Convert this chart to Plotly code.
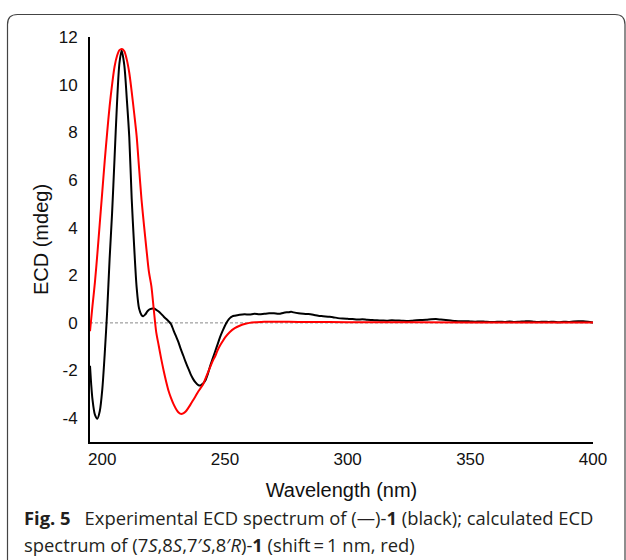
import plotly.graph_objects as go

# ---------------- data ----------------
exp_wl = [195, 195.5, 196, 197, 198, 199, 200, 201, 202, 203, 204, 205, 206, 207, 207.9,
          209, 210, 211, 212, 213, 214, 215, 216, 216.7, 217.5, 218.5, 219.5, 221, 222,
          223, 224, 225, 226, 227, 228, 229, 230, 231, 232, 233, 234, 235, 236, 237, 238,
          239, 240, 241, 242, 243, 244, 245, 246, 247, 248, 249, 250, 251, 252, 253, 254,
          256, 258, 260, 262, 264, 266, 268, 270, 272, 274, 276, 277, 278, 280, 282, 284,
          286, 288, 290, 292, 294, 296, 298, 300, 302, 304, 306, 308, 310, 312, 314, 316,
          318, 320, 322, 324, 326, 328, 330, 332, 334, 336, 338, 340, 342, 344, 346, 348,
          350, 352, 354, 356, 358, 360, 362, 364, 366, 368, 370, 372, 374, 376, 378, 380,
          382, 384, 386, 388, 390, 392, 394, 396, 398, 400]
exp_ecd = [-1.8, -2.6, -3.2, -3.85, -4.02, -3.7, -2.8, -1.3, 0.5, 2.7, 4.6, 6.9, 9.2, 10.9, 11.43,
           10.8, 9.4, 7.8, 5.2, 3.2, 1.5, 0.6, 0.33, 0.28, 0.35, 0.5, 0.58, 0.6, 0.55,
           0.48, 0.38, 0.27, 0.17, 0.07, -0.05, -0.3, -0.55, -0.8, -1.1, -1.37, -1.65, -1.9, -2.15, -2.35, -2.5,
           -2.6, -2.63, -2.55, -2.42, -2.15, -1.8, -1.5, -1.2, -0.9, -0.6, -0.35, -0.12, 0.07, 0.2, 0.27, 0.3,
           0.34, 0.36, 0.35, 0.38, 0.36, 0.38, 0.4, 0.4, 0.38, 0.43, 0.45, 0.47, 0.44, 0.4, 0.38, 0.37,
           0.34, 0.3, 0.28, 0.26, 0.24, 0.2, 0.18, 0.17, 0.16, 0.14, 0.15, 0.13, 0.12, 0.11, 0.1, 0.09,
           0.11, 0.1, 0.09, 0.08, 0.09, 0.11, 0.12, 0.13, 0.15, 0.16, 0.14, 0.12, 0.1, 0.08, 0.07, 0.07,
           0.06, 0.05, 0.06, 0.05, 0.04, 0.04, 0.05, 0.04, 0.06, 0.04, 0.05, 0.06, 0.07, 0.05, 0.04, 0.05,
           0.04, 0.05, 0.03, 0.05, 0.04, 0.06, 0.07, 0.07, 0.05, 0.02]

calc_wl = [195, 196, 197, 198, 199, 200, 201, 202, 203, 204, 205, 206, 207, 208, 209, 210,
           211, 212, 213, 214, 215, 216, 217, 218, 219, 220, 221, 222, 223, 224, 225, 226,
           227, 228, 229, 230, 231, 232, 233, 234, 235, 236, 237, 238, 239, 240, 241, 242,
           243, 244, 245, 246, 247, 248, 249, 250, 252, 254, 256, 258, 260, 263, 266, 270,
           280, 300, 350, 400]
calc_ecd = [-0.35, 0.7, 1.7, 2.9, 4.2, 5.5, 6.8, 8.0, 9.1, 10.0, 10.75, 11.2, 11.45, 11.5, 11.4, 11.05,
            10.5, 9.7, 8.8, 7.85, 6.5, 5.17, 4.1, 3.1, 2.15, 1.55, 0.55, -0.4, -0.95, -1.5, -2.0, -2.45,
            -2.85, -3.15, -3.4, -3.6, -3.75, -3.82, -3.8, -3.72, -3.58, -3.42, -3.25, -3.08, -2.9, -2.75, -2.6, -2.35,
            -2.1, -1.85, -1.6, -1.4, -1.15, -0.95, -0.78, -0.62, -0.38, -0.22, -0.12, -0.05, 0.0, 0.03, 0.05, 0.05,
            0.04, 0.03, 0.02, 0.02]

x_ticks = [200, 250, 300, 350, 400]
y_ticks = [-4, -2, 0, 2, 4, 6, 8, 10, 12]
y_tick_text = ["-4", "-2", "0", "2", "4", "6", "8", "10", "12"]

# ---------------- layout geometry ----------------
W, H = 626, 560
ML, MR, MT, MB = 90, 33, 37, 118
PW = W - ML - MR
PH = H - MT - MB


def fx(px):
    return (px - ML) / PW


def fy(py):
    return (H - MB - py) / PH


fig = go.Figure()
fig.add_trace(go.Scatter(x=exp_wl, y=exp_ecd, mode="lines",
                         line=dict(color="black", width=2, shape="spline", smoothing=0.8),
                         showlegend=False, hoverinfo="skip"))
fig.add_trace(go.Scatter(x=calc_wl, y=calc_ecd, mode="lines",
                         line=dict(color="#ff0000", width=2, shape="spline", smoothing=0.8),
                         showlegend=False, hoverinfo="skip"))

font_axis = "Liberation Sans, Arial, sans-serif"

fig.update_layout(
    width=W, height=H,
    margin=dict(l=ML, r=MR, t=MT, b=MB, autoexpand=False),
    paper_bgcolor="white", plot_bgcolor="white",
    font=dict(family=font_axis, color="#111111"),
    xaxis=dict(range=[195, 400], tickvals=x_ticks, showgrid=False, zeroline=False,
               showline=True, linecolor="black", linewidth=2, ticks="",
               ticklabelstandoff=1, automargin=False,
               tickfont=dict(size=17, family=font_axis, color="#111111"),
               title=dict(text="Wavelength (nm)", font=dict(size=20, family=font_axis, color="#111111"),
                          standoff=15)),
    yaxis=dict(range=[-5, 12], tickvals=y_ticks, ticktext=y_tick_text, showgrid=False,
               zeroline=False, showline=True, linecolor="black", linewidth=2, ticks="",
               ticklabelstandoff=7, automargin=False,
               tickfont=dict(size=17, family=font_axis, color="#111111"),
               title=dict(text="ECD (mdeg)", font=dict(size=20, family=font_axis, color="#111111"),
                          standoff=5)),
)

# zero reference line
fig.add_shape(type="line", xref="x", yref="y", x0=195, x1=400, y0=0, y1=0,
              line=dict(color="#888888", width=1, dash="3px,2px"), layer="below")

# rounded panel border
L, T, R, B = 7.5, 14.5, 625.0, 600.0
r = 10
rx, ry = r / PW, r / PH
path = (f"M {fx(L)},{fy(B)} L {fx(L)},{fy(T) - ry} Q {fx(L)},{fy(T)} {fx(L) + rx},{fy(T)} "
        f"L {fx(R) - rx},{fy(T)} Q {fx(R)},{fy(T)} {fx(R)},{fy(T) - ry} L {fx(R)},{fy(B)}")
fig.add_shape(type="path", xref="paper", yref="paper", path=path,
              line=dict(color="#444444", width=1.2))

cap_font = dict(family="Open Sans, Noto Sans, sans-serif", size=18.4, color="#231f20")
fig.add_annotation(xref="paper", yref="paper", x=fx(22), y=fy(517), xanchor="left", yanchor="middle",
                   showarrow=False, font=cap_font,
                   text="<b>Fig. 5</b>\u2002\u00a0Experimental ECD spectrum of (\u2014)-<b>1</b> (black); calculated ECD")
fig.add_annotation(xref="paper", yref="paper", x=fx(22), y=fy(544), xanchor="left", yanchor="middle",
                   showarrow=False, font=cap_font,
                   text="spectrum of (7<i>S</i>,8<i>S</i>,7\u2032<i>S</i>,8\u2032<i>R</i>)-<b>1</b> (shift\u2009=\u20091 nm, red)")

fig.write_html("out.html", config={"displayModeBar": False},
               post_script="document.body.style.margin='0';document.body.style.overflow='hidden';")
